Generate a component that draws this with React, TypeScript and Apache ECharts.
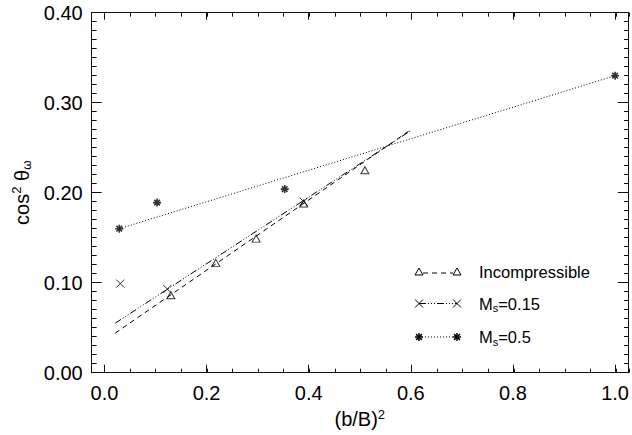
import React, { useEffect, useRef } from "react";
import * as echarts from "echarts";

// ---- data ----
const incompX = [0.130, 0.218, 0.297, 0.390, 0.510];
const incompY = [0.086, 0.122, 0.149, 0.188, 0.225];
const ms015X = [0.031, 0.123, 0.390];
const ms015Y = [0.099, 0.093, 0.190];
const ms05X = [0.029, 0.103, 0.353, 1.0];
const ms05Y = [0.160, 0.189, 0.204, 0.330];

const fitIncompX = [0.021, 0.600];
const fitIncompY = [0.044, 0.270];
const fitMs015X = [0.021, 0.600];
const fitMs015Y = [0.055, 0.269];
const fitMs05X = [0.029, 1.0];
const fitMs05Y = [0.160, 0.330];

const legendNames = ["Incompressible", "M{s|s}=0.15", "M{s|s}=0.5"];

const FONT = "'Liberation Sans', Arial, Helvetica, sans-serif";
const CROSS = "path://M0,0L10,10M10,0L0,10";
const STAR = "path://M5,0L5,10M0,5L10,5M1.5,1.5L8.5,8.5M8.5,1.5L1.5,8.5";

const DASH = [5, 4];
const DASHDOT = [7, 2, 1, 2, 1, 2, 1, 2];
const DOT = [1, 2];

const zip = (xs: number[], ys: number[]) => xs.map((v, i) => [v, ys[i]]);

function triangle(cx: number, cy: number) {
  return {
    type: "polygon",
    shape: { points: [[cx - 4, cy + 3], [cx, cy - 4], [cx + 4, cy + 3]] },
    style: { fill: "none", stroke: "#000", lineWidth: 1 },
  };
}
function cross(cx: number, cy: number) {
  return [
    { type: "line", shape: { x1: cx - 4, y1: cy - 4, x2: cx + 4, y2: cy + 4 }, style: { stroke: "#000", lineWidth: 1 } },
    { type: "line", shape: { x1: cx + 4, y1: cy - 4, x2: cx - 4, y2: cy + 4 }, style: { stroke: "#000", lineWidth: 1 } },
  ];
}
function star(cx: number, cy: number) {
  const r = 4;
  const d = 2.9;
  const s = { stroke: "#000", lineWidth: 1.5 };
  return [
    { type: "line", shape: { x1: cx, y1: cy - r, x2: cx, y2: cy + r }, style: s },
    { type: "line", shape: { x1: cx - r, y1: cy, x2: cx + r, y2: cy }, style: s },
    { type: "line", shape: { x1: cx - d, y1: cy - d, x2: cx + d, y2: cy + d }, style: s },
    { type: "line", shape: { x1: cx + d, y1: cy - d, x2: cx - d, y2: cy + d }, style: s },
  ];
}

export default function App() {
  const ref = useRef<HTMLDivElement>(null);
  useEffect(() => {
    if (!ref.current) return;
    const chart = echarts.init(ref.current, undefined, { renderer: "svg" });

    const gridRect = { left: 91.7, right: 3, top: 12.7, bottom: 62.3 };
    const axisLine = { show: true, onZero: false, lineStyle: { color: "#111", width: 1 } };
    const noLine = { show: false, onZero: false };
    const tick = (length: number) => ({ show: true, inside: true, length, lineStyle: { color: "#111", width: 1 } });
    const xMajorFmt = (v: number) =>
      Math.abs(v * 5 - Math.round(v * 5)) < 1e-6 ? v.toFixed(1) : "";

    const legendRows = [272, 303.5, 337];
    const lx1 = 419;
    const lx2 = 457;
    const graphics: any[] = [];
    graphics.push({ type: "line", shape: { x1: lx1 + 4, y1: legendRows[0] + 1, x2: lx2 - 4, y2: legendRows[0] + 1 }, style: { stroke: "#000", lineWidth: 1, lineDash: DASH } });
    graphics.push(triangle(lx1, legendRows[0]));
    graphics.push(triangle(lx2, legendRows[0]));
    graphics.push({ type: "line", shape: { x1: lx1, y1: legendRows[1], x2: lx2, y2: legendRows[1] }, style: { stroke: "#000", lineWidth: 1, lineDash: DASHDOT } });
    graphics.push(...cross(lx1, legendRows[1]));
    graphics.push(...cross(lx2, legendRows[1]));
    graphics.push({ type: "line", shape: { x1: lx1, y1: legendRows[2], x2: lx2, y2: legendRows[2] }, style: { stroke: "#000", lineWidth: 1, lineDash: DOT } });
    graphics.push(...star(lx1, legendRows[2]));
    graphics.push(...star(lx2, legendRows[2]));
    legendNames.forEach((t, i) => {
      graphics.push({
        type: "text",
        x: 479,
        y: legendRows[i],
        style: {
          text: t,
          fill: "#000",
          fontFamily: FONT,
          fontSize: 16.5,
          verticalAlign: "middle",
          align: "left",
          rich: { s: { fontSize: 11, fontFamily: FONT, padding: [9, 0, 0, 0] } },
        },
      });
    });

    chart.setOption({
      animation: false,
      backgroundColor: "#fff",
      grid: [
        { ...gridRect, containLabel: false },
        { ...gridRect, containLabel: false },
      ],
      xAxis: [
        {
          type: "value", gridIndex: 0, position: "bottom", min: -0.025, max: 1.025, splitNumber: 5,
          axisLine, splitLine: { show: false }, axisTick: tick(8),
          axisLabel: { show: true, fontSize: 20, fontFamily: FONT, color: "#000", margin: 10, showMinLabel: false, showMaxLabel: false, formatter: xMajorFmt },
          name: "(b/B){sup|2}", nameLocation: "middle", nameGap: 31,
          nameTextStyle: { fontSize: 20, fontFamily: FONT, color: "#000", rich: { sup: { fontSize: 13, fontFamily: FONT, padding: [0, 0, 10, 0] } } },
        },
        {
          type: "value", gridIndex: 0, position: "top", min: -0.025, max: 1.025, splitNumber: 5,
          axisLine, splitLine: { show: false }, axisTick: tick(7),
          axisLabel: { show: false },
        },
        {
          type: "value", gridIndex: 1, position: "bottom", min: -0.025, max: 1.025, splitNumber: 21,
          axisLine: noLine, splitLine: { show: false }, axisTick: tick(4),
          axisLabel: { show: false },
        },
        {
          type: "value", gridIndex: 1, position: "top", min: -0.025, max: 1.025, splitNumber: 21,
          axisLine: noLine, splitLine: { show: false }, axisTick: tick(4),
          axisLabel: { show: false },
        },
      ],
      yAxis: [
        {
          type: "value", gridIndex: 0, position: "left", min: 0, max: 0.4, interval: 0.1,
          axisLine, splitLine: { show: false }, axisTick: tick(10),
          axisLabel: { show: true, fontSize: 20, fontFamily: FONT, color: "#000", margin: 9, formatter: (v: number) => v.toFixed(2) },
          name: "cos{sup|2} θ{sub|ω}", nameLocation: "middle", nameRotate: 90, nameGap: 56,
          nameTextStyle: {
            fontSize: 20, fontFamily: FONT, color: "#000",
            rich: {
              sup: { fontSize: 13, fontFamily: FONT, padding: [0, 0, 10, 0] },
              sub: { fontSize: 12, fontFamily: FONT, padding: [10, 0, 0, 0] },
            },
          },
        },
        {
          type: "value", gridIndex: 0, position: "right", min: 0, max: 0.4, interval: 0.1,
          axisLine, splitLine: { show: false }, axisTick: tick(10),
          axisLabel: { show: false },
        },
        {
          type: "value", gridIndex: 1, position: "left", min: 0, max: 0.4, interval: 0.01,
          axisLine: noLine, splitLine: { show: false }, axisTick: tick(5),
          axisLabel: { show: false },
        },
        {
          type: "value", gridIndex: 1, position: "right", min: 0, max: 0.4, interval: 0.01,
          axisLine: noLine, splitLine: { show: false }, axisTick: tick(5),
          axisLabel: { show: false },
        },
      ],
      series: [
        {
          name: "Incompressible fit", type: "line", xAxisIndex: 0, yAxisIndex: 0,
          data: zip(fitIncompX, fitIncompY), showSymbol: false, symbol: "none",
          lineStyle: { color: "#000", width: 1, type: DASH }, silent: true,
        },
        {
          name: "Ms=0.15 fit", type: "line", xAxisIndex: 0, yAxisIndex: 0,
          data: zip(fitMs015X, fitMs015Y), showSymbol: false, symbol: "none",
          lineStyle: { color: "#000", width: 1, type: DASHDOT }, silent: true,
        },
        {
          name: "Ms=0.5 fit", type: "line", xAxisIndex: 0, yAxisIndex: 0,
          data: zip(fitMs05X, fitMs05Y), showSymbol: false, symbol: "none",
          lineStyle: { color: "#000", width: 1, type: DOT }, silent: true,
        },
        {
          name: "Incompressible", type: "scatter", xAxisIndex: 0, yAxisIndex: 0,
          data: zip(incompX, incompY), symbol: "triangle", symbolSize: [8, 7],
          itemStyle: { color: "transparent", borderColor: "#000", borderWidth: 1 },
        },
        {
          name: "Ms=0.15", type: "scatter", xAxisIndex: 0, yAxisIndex: 0,
          data: zip(ms015X, ms015Y), symbol: CROSS, symbolSize: 8,
          itemStyle: { color: "transparent", borderColor: "#000", borderWidth: 1 },
        },
        {
          name: "Ms=0.5", type: "scatter", xAxisIndex: 0, yAxisIndex: 0,
          data: zip(ms05X, ms05Y), symbol: STAR, symbolSize: 8,
          itemStyle: { color: "transparent", borderColor: "#000", borderWidth: 1.6 },
        },
      ],
      graphic: graphics,
    });
    return () => chart.dispose();
  }, []);
  return (
    <div
      ref={ref}
      style={{ position: "fixed", left: 0, top: 0, width: 632, height: 435, background: "#fff" }}
    />
  );
}
